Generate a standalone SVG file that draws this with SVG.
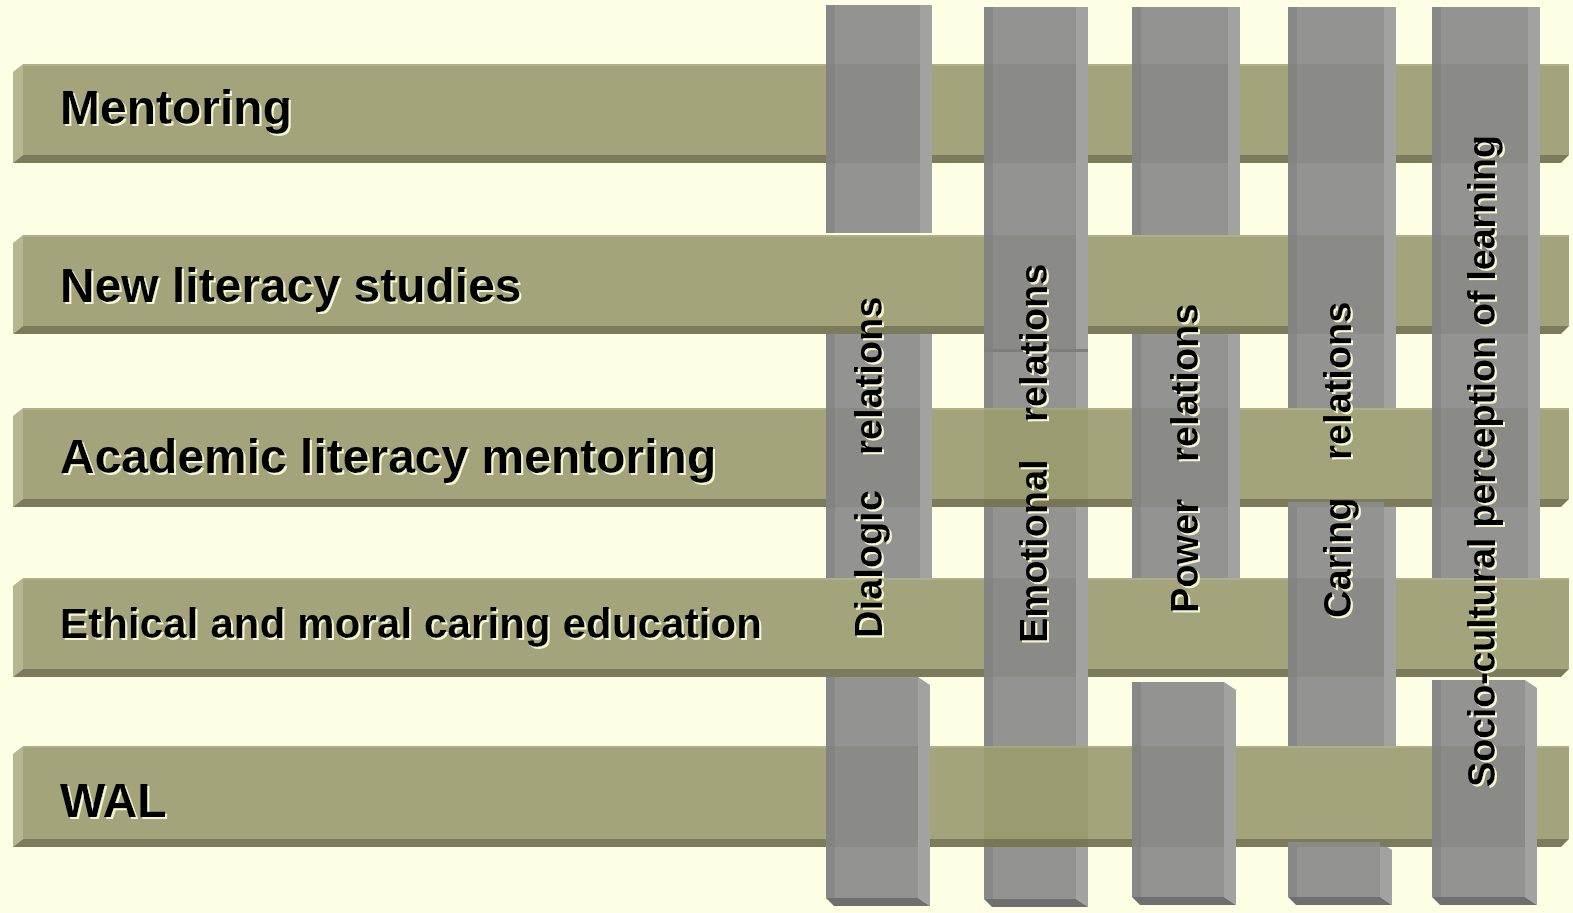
<svg xmlns="http://www.w3.org/2000/svg" width="1573" height="913" viewBox="0 0 1573 913">
<defs>
<style>
.hf{fill:#A4A47C}.hl{fill:#B6B690}.hb{fill:#7C7C5C}.ht{fill:#AFAF89}
.vf{fill:#939391}.vfx{fill:#8A8A86}.vl{fill:#888888}.vlx{fill:#838381}.vr{fill:#A2A2A0}.vb{fill:#6F6F6F}
.tint{fill:#5A5A30;opacity:0.12}
.lbl{font-family:"Liberation Sans",Arial,Helvetica,sans-serif;font-weight:bold;fill:#000}
.row{font-size:48px}.col{font-size:38px}
</style>
<filter id="sh" x="-5%" y="-10%" width="110%" height="125%">
<feOffset in="SourceAlpha" dx="2" dy="2" result="o"/>
<feFlood flood-color="#F6F6D2"/>
<feComposite in2="o" operator="in" result="s"/>
<feMerge><feMergeNode in="s"/><feMergeNode in="SourceGraphic"/></feMerge>
</filter>
</defs>
<rect width="1573" height="913" fill="#FEFEE4"/>

<g id="columns-under">
<g id="col-dialogic">
<rect class="vf" x="826" y="5" width="94" height="228"/><rect class="vl" x="826" y="5" width="9" height="228"/><rect class="vr" x="920" y="5" width="12" height="228"/>
<rect class="vf" x="826" y="334" width="94" height="244"/><rect class="vl" x="826" y="334" width="9" height="244"/><rect class="vr" x="920" y="334" width="12" height="244"/>
<rect class="vf" x="826" y="677" width="92" height="221"/><rect class="vl" x="826" y="677" width="9" height="221"/>
<polygon class="vr" points="918,677 930,685 930,906 918,898"/><polygon class="vb" points="826,898 918,898 930,906 834,906"/>
</g>
<g id="col-emotional">
<rect class="vf" x="984" y="7" width="92" height="345"/><rect class="vl" x="984" y="7" width="9" height="345"/><rect class="vr" x="1076" y="7" width="12" height="345"/>
<rect class="vf" x="984" y="352" width="92" height="547"/><rect class="vl" x="984" y="352" width="9" height="547"/>
<polygon class="vr" points="1076,352 1088,352 1088,907 1076,899"/><polygon class="vb" points="984,899 1076,899 1088,907 992,907"/>
</g>
<g id="col-power">
<rect class="vf" x="1132" y="7" width="96" height="228"/><rect class="vl" x="1132" y="7" width="9" height="228"/><rect class="vr" x="1228" y="7" width="12" height="228"/>
<rect class="vf" x="1132" y="334" width="96" height="246"/><rect class="vl" x="1132" y="334" width="9" height="246"/><rect class="vr" x="1228" y="334" width="12" height="246"/>
<rect class="vf" x="1132" y="682" width="92" height="215"/><rect class="vl" x="1132" y="682" width="9" height="215"/>
<polygon class="vr" points="1224,682 1236,690 1236,905 1224,897"/><polygon class="vb" points="1132,897 1224,897 1236,905 1140,905"/>
</g>
<g id="col-caring">
<rect class="vf" x="1288" y="7" width="96" height="401"/><rect class="vl" x="1288" y="7" width="9" height="401"/><rect class="vr" x="1384" y="7" width="12" height="401"/>
<rect class="vf" x="1288" y="502" width="96" height="246"/><rect class="vl" x="1288" y="502" width="9" height="246"/><rect class="vr" x="1384" y="502" width="12" height="246"/>
<rect class="vf" x="1288" y="842" width="92" height="55"/><rect class="vl" x="1288" y="842" width="9" height="55"/>
<polygon class="vr" points="1380,842 1392,850 1392,905 1380,897"/><polygon class="vb" points="1288,897 1380,897 1392,905 1296,905"/>
</g>
<g id="col-socio">
<rect class="vf" x="1432" y="7" width="96" height="571"/><rect class="vl" x="1432" y="7" width="9" height="571"/><rect class="vr" x="1528" y="7" width="12" height="571"/>
<rect class="vf" x="1432" y="680" width="93" height="217"/><rect class="vl" x="1432" y="680" width="9" height="217"/>
<polygon class="vr" points="1525,680 1537,688 1537,905 1525,897"/><polygon class="vb" points="1432,897 1525,897 1537,905 1440,905"/>
</g>
</g>

<g id="rows">
<g id="row-mentoring">
<rect class="hf" x="23" y="64" width="1546" height="91"/><rect class="ht" x="23" y="64" width="1546" height="2"/>
<polygon class="hl" points="23,64 13,72 13,163 23,155"/><polygon class="hb" points="23,155 1569,155 1561,163 13,163"/>
<text class="lbl row" x="60" y="124" filter="url(#sh)">Mentoring</text>
</g>
<g id="row-new-literacy">
<rect class="hf" x="23" y="235" width="1546" height="91"/><rect class="ht" x="23" y="235" width="1546" height="2"/>
<polygon class="hl" points="23,235 13,243 13,334 23,326"/><polygon class="hb" points="23,326 1569,326 1561,334 13,334"/>
<text class="lbl row" x="60" y="302" filter="url(#sh)">New literacy studies</text>
</g>
<g id="row-academic">
<rect class="hf" x="23" y="408" width="1546" height="91"/><rect class="ht" x="23" y="408" width="1546" height="2"/>
<polygon class="hl" points="23,408 13,416 13,507 23,499"/><polygon class="hb" points="23,499 1569,499 1561,507 13,507"/>
<text class="lbl row" x="60" y="473" filter="url(#sh)">Academic literacy mentoring</text>
</g>
<g id="row-ethical">
<rect class="hf" x="23" y="578" width="1546" height="91"/><rect class="ht" x="23" y="578" width="1546" height="2"/>
<polygon class="hl" points="23,578 13,586 13,677 23,669"/><polygon class="hb" points="23,669 1569,669 1561,677 13,677"/>
<text class="lbl" x="60" y="638" font-size="42" textLength="702" lengthAdjust="spacing" filter="url(#sh)">Ethical and moral caring education</text>
</g>
<g id="row-wal">
<rect class="hf" x="23" y="746" width="1546" height="93"/><rect class="ht" x="23" y="746" width="1546" height="2"/>
<polygon class="hl" points="23,746 13,754 13,847 23,839"/><polygon class="hb" points="23,839 1569,839 1561,847 13,847"/>
<text class="lbl row" x="60" y="817" filter="url(#sh)">WAL</text>
</g>
</g>

<g id="columns-over">
<g id="col-dialogic-over">
<rect class="vfx" x="826" y="64" width="94" height="99"/><rect class="vlx" x="826" y="64" width="9" height="99"/><rect class="vr" x="920" y="64" width="12" height="99"/>
<rect class="vfx" x="826" y="408" width="94" height="99"/><rect class="vlx" x="826" y="408" width="9" height="99"/><rect class="vr" x="920" y="408" width="12" height="99"/>
<rect class="vfx" x="826" y="746" width="92" height="101"/><rect class="vlx" x="826" y="746" width="9" height="101"/><rect class="vr" x="918" y="746" width="12" height="101"/>
<g filter="url(#sh)"><text class="lbl col" transform="translate(882,638) rotate(-90)">Dialogic <tspan x="183">relations</tspan></text></g>
</g>
<g id="col-emotional-over">
<rect class="vfx" x="984" y="64" width="92" height="99"/><rect class="vlx" x="984" y="64" width="9" height="99"/><rect class="vr" x="1076" y="64" width="12" height="99"/>
<rect class="vfx" x="984" y="235" width="92" height="117"/><rect class="vlx" x="984" y="235" width="9" height="117"/><rect class="vr" x="1076" y="235" width="12" height="117"/>
<rect x="984" y="349" width="104" height="3" fill="#7E7E7C"/>
<rect class="vfx" x="984" y="578" width="92" height="99"/><rect class="vlx" x="984" y="578" width="9" height="99"/><rect class="vr" x="1076" y="578" width="12" height="99"/>
<rect class="tint" x="984" y="408" width="104" height="99"/>
<rect class="tint" x="984" y="746" width="104" height="101"/>
<g filter="url(#sh)"><text class="lbl col" transform="translate(1047,643) rotate(-90)">Emotional <tspan x="221">relations</tspan></text></g>
</g>
<g id="col-power-over">
<rect class="vfx" x="1132" y="64" width="96" height="99"/><rect class="vlx" x="1132" y="64" width="9" height="99"/><rect class="vr" x="1228" y="64" width="12" height="99"/>
<rect class="vfx" x="1132" y="408" width="96" height="99"/><rect class="vlx" x="1132" y="408" width="9" height="99"/><rect class="vr" x="1228" y="408" width="12" height="99"/>
<rect class="vfx" x="1132" y="746" width="92" height="101"/><rect class="vlx" x="1132" y="746" width="9" height="101"/><rect class="vr" x="1224" y="746" width="12" height="101"/>
<g filter="url(#sh)"><text class="lbl col" transform="translate(1198,613) rotate(-90)">Power <tspan x="151">relations</tspan></text></g>
</g>
<g id="col-caring-over">
<rect class="vfx" x="1288" y="64" width="96" height="99"/><rect class="vlx" x="1288" y="64" width="9" height="99"/><rect class="vr" x="1384" y="64" width="12" height="99"/>
<rect class="vfx" x="1288" y="235" width="96" height="99"/><rect class="vlx" x="1288" y="235" width="9" height="99"/><rect class="vr" x="1384" y="235" width="12" height="99"/>
<rect class="vfx" x="1288" y="502" width="96" height="5"/>
<rect class="vfx" x="1288" y="578" width="96" height="99"/><rect class="vlx" x="1288" y="578" width="9" height="99"/><rect class="vr" x="1384" y="578" width="12" height="99"/>
<rect class="vfx" x="1288" y="842" width="92" height="5"/>
<g filter="url(#sh)"><text class="lbl col" transform="translate(1351,618) rotate(-90)">Caring <tspan x="158">relations</tspan></text></g>
</g>
<g id="col-socio-over">
<rect class="vfx" x="1432" y="64" width="96" height="99"/><rect class="vlx" x="1432" y="64" width="9" height="99"/><rect class="vr" x="1528" y="64" width="12" height="99"/>
<rect class="vfx" x="1432" y="235" width="96" height="99"/><rect class="vlx" x="1432" y="235" width="9" height="99"/><rect class="vr" x="1528" y="235" width="12" height="99"/>
<rect class="vfx" x="1432" y="408" width="96" height="99"/><rect class="vlx" x="1432" y="408" width="9" height="99"/><rect class="vr" x="1528" y="408" width="12" height="99"/>
<rect class="vfx" x="1432" y="746" width="93" height="101"/><rect class="vlx" x="1432" y="746" width="9" height="101"/><rect class="vr" x="1525" y="746" width="12" height="101"/>
<g filter="url(#sh)"><text class="lbl col" transform="translate(1495,787) rotate(-90)" textLength="652" lengthAdjust="spacing">Socio-cultural perception of learning</text></g>
</g>
</g>
</svg>
